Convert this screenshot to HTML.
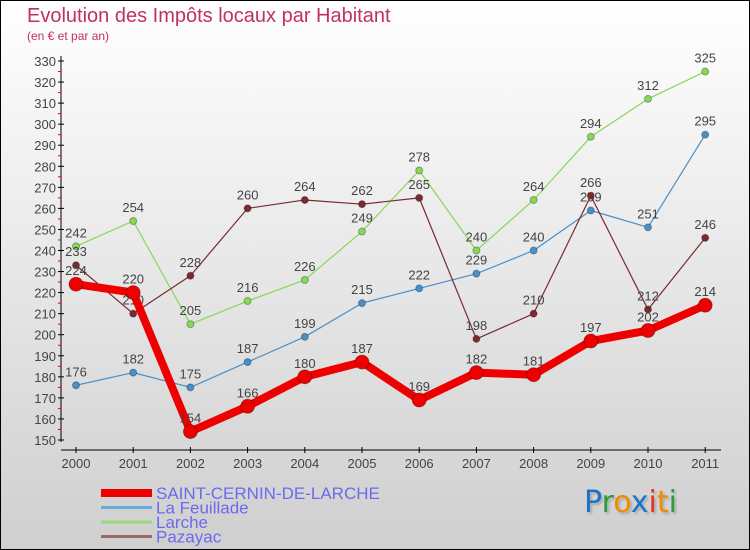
<!DOCTYPE html>
<html><head><meta charset="utf-8"><style>
body{margin:0}
#c{position:relative;width:748px;height:548px;border:1px solid #000;background:linear-gradient(#ffffff,#cfcfcf);font-family:"Liberation Sans",sans-serif;overflow:hidden}
.t{position:absolute;white-space:nowrap}
</style></head><body>
<div id="c">
<div class="t" style="left:26px;top:4px;font-size:20px;color:#c0325e">Evolution des Impôts locaux par Habitant</div>
<div class="t" style="left:26px;top:28px;font-size:12px;color:#c0325e">(en € et par an)</div>
<svg id="s" width="748" height="548" style="position:absolute;left:0;top:0"></svg>
<div class="t" style="left:583px;top:484px;font-size:30px;font-family:'DejaVu Sans',sans-serif;text-shadow:2px 2px 2px #aaa"><span style="color:#1a73c9">P</span><span style="color:#2a9a3a">r</span><span style="color:#f28a00">o</span><span style="color:#1a73c9">x</span><span style="color:#e8341c">i</span><span style="color:#f28a00">t</span><span style="color:#2a9a3a">i</span></div>
</div>
<script>
const years=[2000,2001,2002,2003,2004,2005,2006,2007,2008,2009,2010,2011];
const yTicks=[150,160,170,180,190,200,210,220,230,240,250,260,270,280,290,300,310,320,330];
const scl=[224,220,154,166,180,187,169,182,181,197,202,214];
const feuillade=[176,182,175,187,199,215,222,229,240,259,251,295];
const larche=[242,254,205,216,226,249,278,240,264,294,312,325];
const pazayac=[233,210,228,260,264,262,265,198,210,266,212,246];
const NS="http://www.w3.org/2000/svg",s=document.getElementById('s');
const X=i=>75+i*57.2, Y=v=>60+(330-v)*(379/180);
const F='Liberation Sans,sans-serif';
function el(t,a,p){const e=document.createElementNS(NS,t);for(const k in a)e.setAttribute(k,a[k]);(p||s).appendChild(e);return e;}
let ax=el('line',{x1:60,y1:55,x2:60,y2:441,stroke:'#000','stroke-width':1});

let xx=el('line',{x1:60,y1:449,x2:720,y2:449,stroke:'#000','stroke-width':1});

yTicks.forEach(v=>{el('line',{x1:57,x2:63,y1:Y(v),y2:Y(v),stroke:'#000'});
 if(v<330)el('line',{x1:57,x2:60,y1:Y(v+5),y2:Y(v+5),stroke:'#e00'});
 const t=el('text',{x:55,y:Y(v)+5,'text-anchor':'end','font-size':13,fill:'#444','font-family':F});t.textContent=v;
 });
years.forEach((y,i)=>{el('line',{x1:X(i),x2:X(i),y1:446,y2:452,stroke:'#000'});
 const t=el('text',{x:X(i),y:467,'text-anchor':'middle','font-size':13,fill:'#444','font-family':F});t.textContent=y;
 });
function series(d,col,w,r,name){
 const g=el('g',{});
 el('polyline',{points:d.map((v,i)=>X(i)+','+Y(v)).join(' '),fill:'none',stroke:col,'stroke-width':w,'stroke-linejoin':'round'},g);
 d.forEach((v,i)=>{const c=el('circle',{cx:X(i),cy:Y(v),r:r,fill:col,stroke:'rgba(0,0,0,0.3)','stroke-width':1},g);
  
  const t=el('text',{x:X(i),y:Y(v)-9,'text-anchor':'middle','font-size':13,fill:'#444','font-family':F},g);t.textContent=v;});
}
series(feuillade,'#4a90c8',1.2,3.5,'la-feuillade-series');
series(larche,'#88d858',1.2,3.5,'larche-series');
series(pazayac,'#7a2a30',1.2,3.5,'pazayac-series');
series(scl,'#ee0000',8,7,'saint-cernin-series');
const leg=[['SAINT-CERNIN-DE-LARCHE','#ee0000',8],['La Feuillade','#6aa8d8',3],['Larche','#98d878',3],['Pazayac','#9a6a6a',3]];
leg.forEach((l,i)=>{const y=492+i*14.5;
 el('line',{x1:100,x2:151,y1:y,y2:y,stroke:l[1],'stroke-width':l[2]});
 const t=el('text',{x:155,y:y+6,'font-size':17,fill:'#6a6af0','font-family':F});t.textContent=l[0];
 });
</script>
</body></html>
